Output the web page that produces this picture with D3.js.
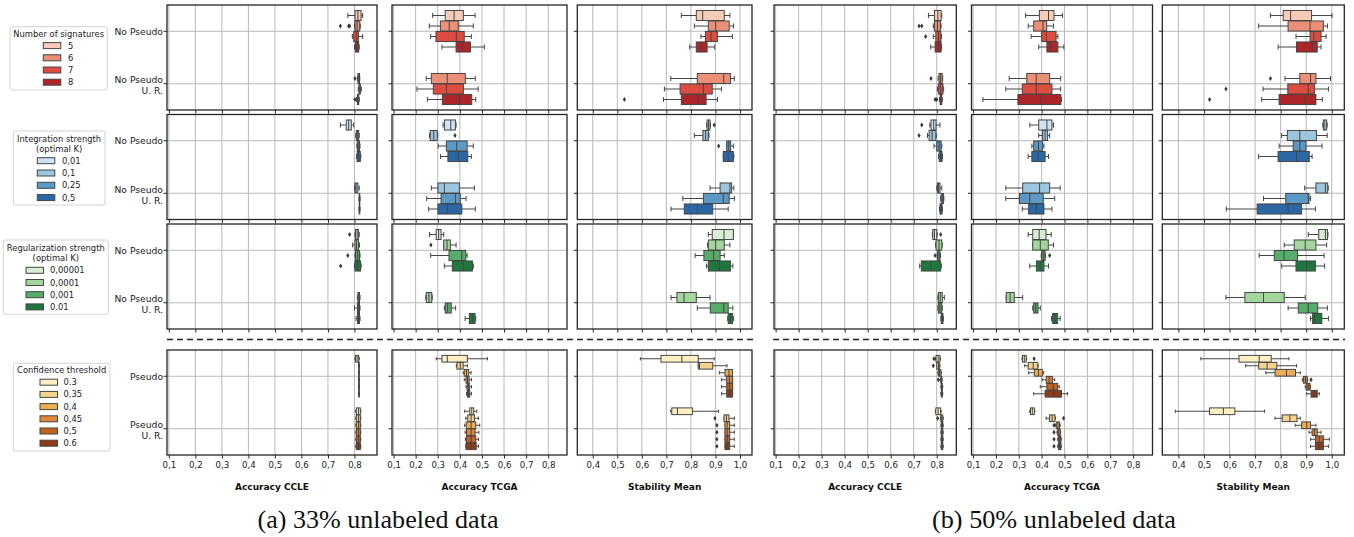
<!DOCTYPE html>
<html><head><meta charset="utf-8">
<script src="https://cdn.jsdelivr.net/npm/d3@7"></script>
<style>body{margin:0;background:#fff}svg{display:block}</style>
</head><body>
<svg id="chart" width="1354" height="537"></svg>
<script>
// ---------------- DATA ----------------
const columnTitles = ["Accuracy CCLE", "Accuracy TCGA", "Stability Mean"];
const accTicks = [0.1, 0.2, 0.3, 0.4, 0.5, 0.6, 0.7, 0.8];
const stabTicks = [0.4, 0.5, 0.6, 0.7, 0.8, 0.9, 1.0];
const catsNoPseudo = [["No Pseudo"], ["No Pseudo", "U. R."]];
const catsPseudo = [["Pseudo"], ["Pseudo", "U. R."]];
const sigHues = ["5", "6", "7", "8"];
const intHues = ["0,01", "0,1", "0,25", "0,5"];
const regHues = ["0,00001", "0,0001", "0,001", "0.01"];
const confHues = ["0.3", "0,35", "0,4", "0,45", "0,5", "0.6"];
const legendTitles = [["Number of signatures"], ["Integration strength", "(optimal K)"], ["Regularization strength", "(optimal K)"], ["Confidence threshold"]];
const captions = ["(a) 33% unlabeled data", "(b) 50% unlabeled data"];

// rows: [category, hue, whiskerLow, q1, median, q3, whiskerHigh, outliers]
// ---- (a) 33% ----
const A_sig_ccle = [
 [0,"5",0.775,0.802,0.813,0.825,0.831,[]],
 [0,"6",0.800,0.802,0.810,0.820,0.822,[0.747,0.778,0.782]],
 [0,"7",0.792,0.797,0.807,0.815,0.831,[]],
 [0,"8",0.800,0.804,0.810,0.816,0.818,[]],
 [1,"6",0.811,0.813,0.816,0.819,0.820,[0.802]],
 [1,"7",0.814,0.817,0.820,0.822,0.826,[]],
 [1,"8",0.808,0.811,0.813,0.816,0.818,[0.802]]];
const A_sig_tcga = [
 [0,"5",0.277,0.334,0.374,0.416,0.469,[]],
 [0,"6",0.262,0.312,0.352,0.393,0.461,[]],
 [0,"7",0.268,0.292,0.384,0.420,0.452,[]],
 [0,"8",0.319,0.383,0.411,0.448,0.511,[]],
 [1,"6",0.248,0.271,0.343,0.425,0.470,[]],
 [1,"7",0.206,0.280,0.339,0.416,0.483,[]],
 [1,"8",0.253,0.321,0.398,0.454,0.472,[]]];
const A_sig_stab = [
 [0,"5",0.761,0.822,0.848,0.936,0.959,[]],
 [0,"6",0.814,0.871,0.901,0.956,0.974,[]],
 [0,"7",0.841,0.859,0.882,0.908,0.969,[]],
 [0,"8",0.795,0.822,0.841,0.866,0.897,[]],
 [1,"6",0.718,0.826,0.934,0.961,0.977,[]],
 [1,"7",0.692,0.756,0.851,0.887,0.925,[]],
 [1,"8",0.688,0.761,0.830,0.862,0.908,[0.529]]];
const A_int_ccle = [
 [0,"0,01",0.747,0.769,0.778,0.788,0.797,[]],
 [0,"0,1",0.805,0.807,0.811,0.816,0.818,[]],
 [0,"0,25",0.809,0.811,0.814,0.819,0.821,[]],
 [0,"0,5",0.808,0.810,0.815,0.822,0.824,[]],
 [1,"0,1",0.800,0.802,0.806,0.813,0.818,[]],
 [1,"0,25",0.817,0.818,0.819,0.820,0.821,[]],
 [1,"0,5",0.817,0.818,0.819,0.820,0.821,[]]];
const A_int_tcga = [
 [0,"0,01",0.324,0.330,0.359,0.380,0.383,[]],
 [0,"0,1",0.263,0.266,0.282,0.298,0.300,[0.378]],
 [0,"0,25",0.302,0.339,0.386,0.433,0.461,[]],
 [0,"0,5",0.313,0.346,0.393,0.436,0.452,[]],
 [1,"0,1",0.271,0.301,0.330,0.398,0.466,[]],
 [1,"0,25",0.250,0.315,0.380,0.402,0.428,[]],
 [1,"0,5",0.259,0.301,0.343,0.409,0.470,[]]];
const A_int_stab = [
 [0,"0,01",0.864,0.866,0.872,0.878,0.880,[0.895]],
 [0,"0,1",0.814,0.849,0.860,0.871,0.874,[]],
 [0,"0,25",0.946,0.946,0.954,0.962,0.973,[0.913]],
 [0,"0,5",0.932,0.932,0.952,0.973,0.975,[]],
 [1,"0,1",0.878,0.919,0.959,0.966,0.975,[]],
 [1,"0,25",0.767,0.851,0.932,0.956,0.977,[]],
 [1,"0,5",0.719,0.773,0.826,0.889,0.952,[]]];
const A_reg_ccle = [
 [0,"0,00001",0.802,0.804,0.810,0.815,0.818,[0.782]],
 [0,"0,0001",0.793,0.802,0.808,0.815,0.819,[]],
 [0,"0,001",0.802,0.804,0.812,0.819,0.821,[0.775]],
 [0,"0.01",0.800,0.802,0.812,0.823,0.825,[0.748]],
 [1,"0,0001",0.811,0.813,0.816,0.819,0.821,[]],
 [1,"0,001",0.800,0.811,0.815,0.819,0.821,[]],
 [1,"0.01",0.806,0.811,0.815,0.819,0.821,[]]];
const A_reg_tcga = [
 [0,"0,00001",0.263,0.293,0.304,0.315,0.327,[]],
 [0,"0,0001",0.327,0.327,0.342,0.357,0.383,[0.269]],
 [0,"0,001",0.268,0.351,0.409,0.427,0.433,[]],
 [0,"0.01",0.330,0.366,0.415,0.457,0.461,[]],
 [1,"0,0001",0.246,0.248,0.260,0.273,0.275,[]],
 [1,"0,001",0.330,0.334,0.345,0.361,0.381,[]],
 [1,"0.01",0.424,0.443,0.457,0.469,0.472,[]]];
const A_reg_stab = [
 [0,"0,00001",0.871,0.887,0.935,0.973,0.973,[]],
 [0,"0,0001",0.868,0.871,0.901,0.936,0.959,[]],
 [0,"0,001",0.817,0.853,0.893,0.919,0.936,[]],
 [0,"0.01",0.864,0.871,0.916,0.961,0.971,[]],
 [1,"0,0001",0.719,0.743,0.772,0.822,0.878,[]],
 [1,"0,001",0.826,0.879,0.934,0.952,0.971,[]],
 [1,"0.01",0.950,0.952,0.960,0.970,0.974,[]]];
const A_conf_ccle = [
 [0,"0.3",0.802,0.804,0.810,0.816,0.818,[]],
 [0,"0,35",0.815,0.816,0.817,0.818,0.819,[]],
 [0,"0,4",0.815,0.816,0.817,0.818,0.819,[]],
 [0,"0,45",0.815,0.816,0.817,0.818,0.819,[]],
 [0,"0,5",0.815,0.816,0.817,0.818,0.819,[]],
 [0,"0.6",0.815,0.816,0.817,0.818,0.819,[]],
 [1,"0.3",0.805,0.807,0.815,0.822,0.824,[]],
 [1,"0,35",0.805,0.807,0.815,0.822,0.824,[]],
 [1,"0,4",0.805,0.807,0.815,0.822,0.824,[]],
 [1,"0,45",0.805,0.807,0.815,0.822,0.824,[]],
 [1,"0,5",0.805,0.807,0.815,0.822,0.824,[]],
 [1,"0.6",0.805,0.807,0.815,0.822,0.824,[]]];
const A_conf_tcga = [
 [0,"0.3",0.293,0.319,0.343,0.434,0.525,[]],
 [0,"0,35",0.384,0.387,0.402,0.415,0.434,[]],
 [0,"0,4",0.415,0.420,0.430,0.440,0.451,[]],
 [0,"0,45",0.420,0.428,0.435,0.442,0.453,[]],
 [0,"0,5",0.428,0.433,0.438,0.443,0.453,[]],
 [0,"0.6",0.430,0.434,0.440,0.445,0.453,[]],
 [1,"0.3",0.422,0.445,0.454,0.463,0.477,[]],
 [1,"0,35",0.427,0.436,0.451,0.466,0.484,[]],
 [1,"0,4",0.422,0.429,0.451,0.472,0.490,[]],
 [1,"0,45",0.424,0.430,0.451,0.469,0.486,[]],
 [1,"0,5",0.425,0.430,0.451,0.472,0.484,[]],
 [1,"0.6",0.427,0.428,0.451,0.474,0.484,[]]];
const A_conf_stab = [
 [0,"0.3",0.594,0.678,0.763,0.830,0.895,[]],
 [0,"0,35",0.830,0.830,0.835,0.889,0.947,[]],
 [0,"0,4",0.916,0.939,0.955,0.969,0.969,[]],
 [0,"0,45",0.925,0.946,0.957,0.970,0.970,[]],
 [0,"0,5",0.925,0.946,0.957,0.970,0.970,[]],
 [0,"0.6",0.925,0.946,0.957,0.970,0.970,[]],
 [1,"0.3",0.718,0.722,0.745,0.806,0.913,[]],
 [1,"0,35",0.935,0.935,0.945,0.955,0.977,[0.898]],
 [1,"0,4",0.939,0.939,0.948,0.958,0.977,[0.906]],
 [1,"0,45",0.939,0.939,0.948,0.958,0.977,[0.906]],
 [1,"0,5",0.939,0.939,0.948,0.958,0.977,[0.906]],
 [1,"0.6",0.939,0.939,0.948,0.958,0.977,[0.906]]];
// ---- (b) 50% ----
const B_sig_ccle = [
 [0,"5",0.764,0.790,0.805,0.819,0.822,[]],
 [0,"6",0.785,0.790,0.803,0.816,0.819,[0.723,0.735]],
 [0,"7",0.785,0.796,0.808,0.818,0.821,[0.752]],
 [0,"8",0.774,0.793,0.808,0.819,0.821,[]],
 [1,"6",0.806,0.810,0.817,0.824,0.826,[0.775]],
 [1,"7",0.803,0.807,0.817,0.827,0.830,[]],
 [1,"8",0.812,0.815,0.819,0.822,0.824,[0.793,0.800]]];
const B_sig_tcga = [
 [0,"5",0.330,0.390,0.430,0.454,0.491,[]],
 [0,"6",0.341,0.365,0.406,0.422,0.452,[]],
 [0,"7",0.354,0.400,0.420,0.463,0.471,[]],
 [0,"8",0.387,0.423,0.438,0.471,0.497,[]],
 [1,"6",0.258,0.335,0.376,0.435,0.483,[]],
 [1,"7",0.243,0.315,0.376,0.445,0.483,[]],
 [1,"8",0.143,0.296,0.397,0.484,0.487,[]]];
const B_sig_stab = [
 [0,"5",0.760,0.810,0.839,0.921,1.001,[]],
 [0,"6",0.714,0.829,0.915,0.967,0.983,[]],
 [0,"7",0.860,0.915,0.930,0.958,0.978,[]],
 [0,"8",0.790,0.862,0.924,0.943,0.958,[]],
 [1,"6",0.817,0.875,0.917,0.938,0.995,[0.760]],
 [1,"7",0.731,0.828,0.908,0.932,0.987,[0.586]],
 [1,"8",0.726,0.794,0.896,0.938,0.963,[0.522]]];
const B_int_ccle = [
 [0,"0,01",0.770,0.775,0.787,0.797,0.814,[0.735]],
 [0,"0,1",0.760,0.767,0.780,0.796,0.798,[0.723]],
 [0,"0,25",0.788,0.800,0.810,0.819,0.822,[]],
 [0,"0,5",0.808,0.811,0.817,0.823,0.825,[]],
 [1,"0,1",0.800,0.803,0.808,0.814,0.822,[]],
 [1,"0,25",0.817,0.819,0.824,0.829,0.831,[]],
 [1,"0,5",0.812,0.814,0.818,0.823,0.825,[]]];
const B_int_tcga = [
 [0,"0,01",0.348,0.387,0.423,0.445,0.452,[]],
 [0,"0,1",0.387,0.404,0.415,0.426,0.435,[]],
 [0,"0,25",0.357,0.365,0.386,0.404,0.410,[]],
 [0,"0,5",0.341,0.357,0.384,0.415,0.430,[]],
 [1,"0,1",0.243,0.317,0.391,0.435,0.481,[]],
 [1,"0,25",0.243,0.303,0.348,0.407,0.457,[]],
 [1,"0,5",0.315,0.343,0.377,0.410,0.445,[]]];
const B_int_stab = [
 [0,"0,01",0.965,0.967,0.973,0.980,0.982,[]],
 [0,"0,1",0.804,0.826,0.875,0.940,0.982,[]],
 [0,"0,25",0.794,0.849,0.875,0.899,0.962,[]],
 [0,"0,5",0.714,0.790,0.862,0.912,0.923,[]],
 [1,"0,1",0.894,0.938,0.975,0.984,0.986,[]],
 [1,"0,25",0.733,0.820,0.908,0.911,0.917,[]],
 [1,"0,5",0.587,0.708,0.829,0.882,0.936,[]]];
const B_reg_ccle = [
 [0,"0,00001",0.781,0.783,0.790,0.800,0.802,[0.817]],
 [0,"0,0001",0.795,0.797,0.810,0.822,0.824,[]],
 [0,"0,001",0.802,0.804,0.810,0.814,0.816,[0.793]],
 [0,"0.01",0.726,0.733,0.775,0.817,0.820,[]],
 [1,"0,0001",0.805,0.807,0.815,0.824,0.833,[]],
 [1,"0,001",0.805,0.807,0.814,0.822,0.824,[]],
 [1,"0.01",0.818,0.820,0.823,0.827,0.829,[]]];
const B_reg_tcga = [
 [0,"0,00001",0.341,0.361,0.389,0.419,0.442,[]],
 [0,"0,0001",0.361,0.361,0.394,0.429,0.452,[]],
 [0,"0,001",0.398,0.400,0.407,0.415,0.417,[0.435]],
 [0,"0.01",0.348,0.377,0.394,0.410,0.430,[]],
 [1,"0,0001",0.245,0.245,0.262,0.280,0.317,[]],
 [1,"0,001",0.361,0.365,0.374,0.384,0.394,[]],
 [1,"0.01",0.443,0.448,0.458,0.470,0.481,[]]];
const B_reg_stab = [
 [0,"0,00001",0.908,0.949,0.975,0.983,0.985,[]],
 [0,"0,0001",0.814,0.853,0.896,0.938,0.980,[]],
 [0,"0,001",0.716,0.775,0.813,0.866,0.970,[]],
 [0,"0.01",0.804,0.860,0.902,0.936,0.972,[]],
 [1,"0,0001",0.586,0.660,0.733,0.814,0.896,[]],
 [1,"0,001",0.829,0.869,0.908,0.945,0.983,[]],
 [1,"0.01",0.917,0.925,0.932,0.961,0.987,[]]];
const B_conf_ccle = [
 [0,"0.3",0.795,0.797,0.806,0.814,0.816,[0.788]],
 [0,"0,35",0.800,0.800,0.808,0.811,0.814,[0.785]],
 [0,"0,4",0.805,0.807,0.812,0.818,0.820,[]],
 [0,"0,45",0.815,0.818,0.820,0.822,0.823,[0.807]],
 [0,"0,5",0.818,0.820,0.822,0.824,0.826,[]],
 [0,"0.6",0.818,0.820,0.822,0.824,0.826,[]],
 [1,"0.3",0.794,0.796,0.806,0.817,0.819,[]],
 [1,"0,35",0.816,0.818,0.822,0.826,0.828,[0.804]],
 [1,"0,4",0.818,0.820,0.823,0.826,0.828,[]],
 [1,"0,45",0.818,0.820,0.823,0.826,0.828,[]],
 [1,"0,5",0.818,0.820,0.823,0.826,0.828,[]],
 [1,"0.6",0.818,0.820,0.823,0.826,0.828,[]]];
const B_conf_tcga = [
 [0,"0.3",0.314,0.316,0.324,0.332,0.334,[0.367]],
 [0,"0,35",0.326,0.341,0.363,0.383,0.385,[]],
 [0,"0,4",0.343,0.368,0.386,0.403,0.409,[]],
 [0,"0,45",0.402,0.420,0.433,0.447,0.457,[]],
 [0,"0,5",0.394,0.423,0.450,0.470,0.477,[]],
 [0,"0.6",0.365,0.415,0.452,0.487,0.513,[]],
 [1,"0.3",0.348,0.351,0.359,0.368,0.370,[]],
 [1,"0,35",0.420,0.435,0.446,0.458,0.460,[0.496]],
 [1,"0,4",0.460,0.464,0.471,0.478,0.481,[0.454]],
 [1,"0,45",0.467,0.470,0.475,0.481,0.483,[0.454]],
 [1,"0,5",0.470,0.474,0.479,0.484,0.486,[0.454]],
 [1,"0.6",0.470,0.474,0.479,0.484,0.486,[0.454]]];
const B_conf_stab = [
 [0,"0.3",0.488,0.637,0.716,0.763,0.832,[]],
 [0,"0,35",0.663,0.714,0.747,0.785,0.862,[]],
 [0,"0,4",0.742,0.778,0.823,0.858,0.877,[]],
 [0,"0,45",0.885,0.889,0.897,0.904,0.906,[0.919]],
 [0,"0,5",0.896,0.900,0.908,0.915,0.917,[]],
 [0,"0.6",0.902,0.919,0.930,0.943,0.951,[]],
 [1,"0.3",0.388,0.522,0.576,0.621,0.737,[]],
 [1,"0,35",0.778,0.806,0.836,0.864,0.877,[]],
 [1,"0,4",0.857,0.882,0.902,0.917,0.938,[]],
 [1,"0,45",0.911,0.923,0.932,0.943,0.958,[]],
 [1,"0,5",0.917,0.936,0.951,0.967,0.991,[]],
 [1,"0.6",0.917,0.936,0.950,0.967,0.987,[]]];

// ---------------- STYLE / LAYOUT ----------------
const sigColors = ["#f6cbb8", "#ec8f77", "#dc4d3f", "#ad2429"];
const intColors = ["#d0e1f2", "#9cc5de", "#5a98c6", "#2b66a5"];
const regColors = ["#d7eed2", "#a2d69d", "#56ad69", "#1f773e"];
const confColors = ["#fcefc2", "#f4d38d", "#eead52", "#e2873a", "#c5611f", "#8e3c15"];
const edge = "#454545";
const FONT = "'DejaVu Sans', sans-serif";
const SERIF = "'Liberation Serif', 'Times New Roman', serif";

const colX = [[167,377],[392,567],[577.3,752],[774,956.3],[971.5,1152.5],[1162.3,1344.3]];
const rowY = [[5,110],[114.5,219.5],[224,329],[350,455]];
const accDomain = [0.093, 0.885], stabDomain = [0.337, 1.049];

const groups = [
  {hues: sigHues, colors: sigColors, cats: catsNoPseudo, data: [A_sig_ccle, A_sig_tcga, A_sig_stab, B_sig_ccle, B_sig_tcga, B_sig_stab]},
  {hues: intHues, colors: intColors, cats: catsNoPseudo, data: [A_int_ccle, A_int_tcga, A_int_stab, B_int_ccle, B_int_tcga, B_int_stab]},
  {hues: regHues, colors: regColors, cats: catsNoPseudo, data: [A_reg_ccle, A_reg_tcga, A_reg_stab, B_reg_ccle, B_reg_tcga, B_reg_stab]},
  {hues: confHues, colors: confColors, cats: catsPseudo, data: [A_conf_ccle, A_conf_tcga, A_conf_stab, B_conf_ccle, B_conf_tcga, B_conf_stab]}
];

const svg = d3.select("#chart");
svg.append("rect").attr("width", 1354).attr("height", 537).attr("fill", "#fff");
const fmt = d => d3.format(".1f")(d).replace(".", ",");

function drawPanel(col, row) {
  const g = groups[row];
  const [x0, x1] = colX[col], [y0, y1] = rowY[row];
  const isStab = col % 3 === 2;
  const x = d3.scaleLinear().domain(isStab ? stabDomain : accDomain).range([x0, x1]);
  const ticks = isStab ? stabTicks : accTicks;
  const y = d3.scaleBand().domain([0, 1]).range([y0, y1]);
  const bw = y.bandwidth();
  const hy = d3.scaleBand().domain(g.hues).range([-0.4 * bw, 0.4 * bw]);
  const slot = hy.bandwidth();
  const color = d3.scaleOrdinal().domain(g.hues).range(g.colors);
  const p = svg.append("g");

  // grid
  p.selectAll("line.gx").data(ticks).join("line").attr("class", "gx")
    .attr("x1", d => x(d)).attr("x2", d => x(d)).attr("y1", y0).attr("y2", y1)
    .attr("stroke", "#b8b8b8").attr("stroke-width", 1);
  p.selectAll("line.gy").data([0, 1]).join("line").attr("class", "gy")
    .attr("x1", x0).attr("x2", x1).attr("y1", d => y(d) + bw / 2).attr("y2", d => y(d) + bw / 2)
    .attr("stroke", "#b8b8b8").attr("stroke-width", 1);

  // boxes
  const bh = slot * 0.96;
  const boxes = p.selectAll("g.box").data(g.data[col]).join("g").attr("class", "box");
  boxes.each(function (d) {
    const s = d3.select(this);
    const cy = y(d[0]) + bw / 2 + hy(d[1]) + slot / 2;
    const [lo, q1, med, q3, hi, outs] = d.slice(2);
    s.append("line").attr("x1", x(lo)).attr("x2", x(q1)).attr("y1", cy).attr("y2", cy).attr("stroke", edge).attr("stroke-width", 1);
    s.append("line").attr("x1", x(q3)).attr("x2", x(hi)).attr("y1", cy).attr("y2", cy).attr("stroke", edge).attr("stroke-width", 1);
    [lo, hi].forEach(v => s.append("line").attr("x1", x(v)).attr("x2", x(v)).attr("y1", cy - bh / 4).attr("y2", cy + bh / 4).attr("stroke", edge).attr("stroke-width", 1));
    s.append("rect").attr("x", x(q1)).attr("width", Math.max(0.5, x(q3) - x(q1))).attr("y", cy - bh / 2).attr("height", bh)
      .attr("fill", color(d[1])).attr("stroke", edge).attr("stroke-width", 1);
    s.append("line").attr("x1", x(med)).attr("x2", x(med)).attr("y1", cy - bh / 2).attr("y2", cy + bh / 2).attr("stroke", edge).attr("stroke-width", 1);
    s.selectAll("path").data(outs).join("path")
      .attr("d", v => `M${x(v)},${cy - 2.4}L${x(v) + 1.6},${cy}L${x(v)},${cy + 2.4}L${x(v) - 1.6},${cy}Z`)
      .attr("fill", "#3a3a3a");
  });

  // frame
  p.append("rect").attr("x", x0).attr("y", y0).attr("width", x1 - x0).attr("height", y1 - y0)
    .attr("fill", "none").attr("stroke", "#262626").attr("stroke-width", 1.3);

  // x axis ticks
  const bottomRow = row === 3;
  const ax = p.append("g").attr("transform", `translate(0,${y1})`)
    .call(d3.axisBottom(x).tickValues(ticks).tickSize(3.5).tickPadding(3).tickFormat(bottomRow ? fmt : ""));
  ax.select(".domain").remove();
  ax.selectAll("line").attr("stroke", "#262626");
  ax.selectAll("text").attr("font-family", FONT).attr("font-size", 8.6).attr("fill", "#222");

  // y axis ticks
  const ay = p.append("g").attr("transform", `translate(${x0},0)`)
    .call(d3.axisLeft(y).tickSize(3.5).tickFormat(""));
  ay.select(".domain").remove();
  ay.selectAll("line").attr("stroke", "#262626");

  if (col === 0) {
    g.cats.forEach((lines, i) => {
      const cy = y(i) + bw / 2;
      const t = svg.append("text").attr("text-anchor", "end").attr("font-family", FONT)
        .attr("font-size", 9.2).attr("fill", "#222");
      if (lines.length === 1) {
        t.append("tspan").attr("x", x0 - 4).attr("y", cy + 3.6).text(lines[0]);
      } else {
        t.append("tspan").attr("x", x0 - 4).attr("y", cy - 0.3).text(lines[0]);
        t.append("tspan").attr("x", x0 - 4).attr("y", cy + 10.3).text(lines[1]);
      }
    });
  }
  if (bottomRow) {
    svg.append("text").attr("x", (x0 + x1) / 2).attr("y", 489.5).attr("text-anchor", "middle")
      .attr("font-family", FONT).attr("font-weight", "bold").attr("font-size", 9).attr("fill", "#111")
      .text(columnTitles[col % 3]);
  }
}

for (let r = 0; r < 4; r++) for (let c = 0; c < 6; c++) drawPanel(c, r);

// dashed separators
[[167, 753], [773, 1345]].forEach(([a, b]) => {
  svg.append("line").attr("x1", a).attr("x2", b).attr("y1", 339.5).attr("y2", 339.5)
    .attr("stroke", "#222").attr("stroke-width", 1.3).attr("stroke-dasharray", "6,4");
});

// legends
const legendLayout = [
  {box: [10, 26.7, 97.3, 63.3], titleY: [33.6], entryY: 45.6, step: 12.2, patchX: 43.3, textX: 68},
  {box: [13.3, 131, 91.7, 74], titleY: [138.6, 148.6], entryY: 160.7, step: 12.3, patchX: 37.3, textX: 62},
  {box: [3.3, 240, 105, 74.3], titleY: [248.4, 258.4], entryY: 270.3, step: 12.2, patchX: 26, textX: 50},
  {box: [13.3, 363.3, 96.7, 87.7], titleY: [370], entryY: 382.2, step: 12.2, patchX: 40, textX: 63.5}
];
legendLayout.forEach((L, i) => {
  const g = groups[i];
  const lg = svg.append("g");
  const [bx, by, bwid, bht] = L.box;
  lg.append("rect").attr("x", bx).attr("y", by).attr("width", bwid).attr("height", bht).attr("rx", 2)
    .attr("fill", "#fff").attr("stroke", "#d4d4d4").attr("stroke-width", 1);
  legendTitles[i].forEach((t, k) => {
    lg.append("text").attr("x", bx + bwid / 2).attr("y", L.titleY[k] + 3).attr("text-anchor", "middle")
      .attr("font-family", FONT).attr("font-size", 8.4).attr("fill", "#222").text(t);
  });
  const ent = lg.selectAll("g.ent").data(g.hues).join("g").attr("class", "ent")
    .attr("transform", (d, k) => `translate(0,${L.entryY + k * L.step})`);
  ent.append("rect").attr("x", L.patchX).attr("y", -3).attr("width", 17.5).attr("height", 6)
    .attr("fill", (d, k) => g.colors[k]).attr("stroke", edge).attr("stroke-width", 1);
  ent.append("text").attr("x", L.textX).attr("y", 3).attr("font-family", FONT).attr("font-size", 8.4)
    .attr("fill", "#222").text(d => d);
});

// captions
[[378, 241], [1054, 244]].forEach(([cx, w], i) => {
  svg.append("text").attr("x", cx).attr("y", 528).attr("text-anchor", "middle")
    .attr("font-family", SERIF).attr("font-size", 24.5).attr("fill", "#111")
    .attr("textLength", w).attr("lengthAdjust", "spacingAndGlyphs").text(captions[i]);
});
</script>
</body></html>
